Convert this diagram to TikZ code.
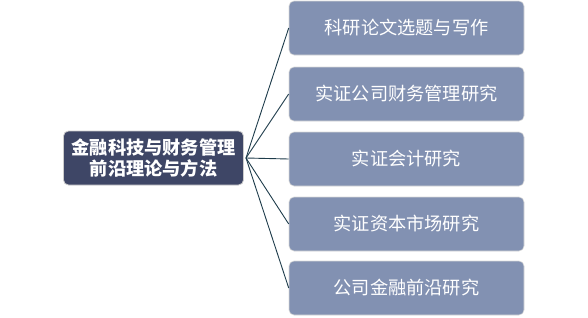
\documentclass[tikz,border=0pt]{standalone}
\usepackage{fontspec}
\setmainfont{Noto Sans CJK SC}
\begin{document}
\begin{tikzpicture}[x=1pt,y=1pt,
  rootbox/.style={draw=gray!40, line width=0.8pt, fill={rgb,255:red,62;green,70;blue,102}, rounded corners=5pt, minimum width=180pt, minimum height=54pt, text=white, font=\fontsize{18.2}{22}\selectfont\bfseries, align=center, inner sep=0pt},
  childbox/.style={draw=gray!30, line width=0.6pt, fill={rgb,255:red,130;green,145;blue,178}, rounded corners=5pt, minimum width=235pt, minimum height=54pt, text=white, font=\fontsize{18.2}{22}\selectfont, inner sep=0pt},
  conn/.style={draw={rgb,255:red,30;green,60;blue,75}, line width=0.9pt}]
\useasboundingbox (0,0) rectangle (588,317);
\node[rootbox] (root) at (153.5,159) {金融科技与财务管理\\[-1pt]前沿理论与方法};
\node[childbox] (c1) at (406.5,289) {科研论文选题与写作};
\node[childbox] (c2) at (406.5,223) {实证公司财务管理研究};
\node[childbox] (c3) at (406.5,158) {实证会计研究};
\node[childbox] (c4) at (406.5,93) {实证资本市场研究};
\node[childbox] (c5) at (406.5,29) {公司金融前沿研究};
\coordinate (hub) at (246,159);
\foreach \c in {c1,c2,c3,c4,c5}{
  \draw[conn] (hub) -- (\c.west);
}
\end{tikzpicture}
\end{document}
